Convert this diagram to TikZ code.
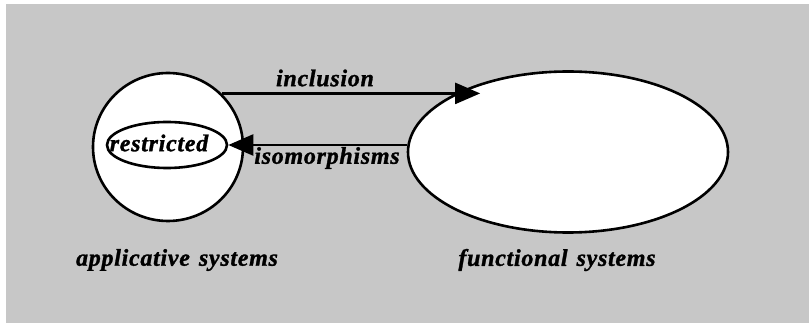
\documentclass[tikz,border=0pt]{standalone}
\usepackage{fontspec}
\setmainfont{Liberation Serif}
\usepackage{tikz}
\usetikzlibrary{arrows.meta,shapes.geometric}

\begin{document}
\begin{tikzpicture}[x=1pt,y=-1pt,
  sys/.style n args={2}{ellipse,draw,fill=white,line width=2.6pt,minimum width=#1pt,minimum height=#2pt,inner sep=0pt},
  lbl/.style={font=\fontsize{24}{27}\selectfont\bfseries\itshape\addfontfeatures{LetterSpace=3,FakeBold=1.2},inner sep=0pt},
  arr/.style={line width=2.4pt,-{Triangle[length=25pt,width=21pt]}}]
\useasboundingbox (0,0) rectangle (809,323);
\fill[white] (0,0) rectangle (809,323);
\fill[black!22] (6,4) rectangle (809,323);
\node[sys={150}{148}] (app) at (168,147) {};
\node[sys={120}{46}] (restr) at (167,145) {};
\node[sys={320}{161}] (func) at (568,152) {};
\node[lbl] (restrlbl) at (159,143) {restricted};
\draw[arr] (app.45) -- (app.45 -| func.142);
\draw[arr] (restr.east -| func.west) -- (restr.east);
\node[lbl] (inclbl) at (325,78) {inclusion};
\node[lbl] (isolbl) at (327,158) {isomorphisms};
\node[lbl] (applbl) at (177,260) {applicative\hspace{9pt}systems};
\node[lbl] (funclbl) at (557,260) {functional\hspace{9pt}systems};
\end{tikzpicture}
\end{document}
